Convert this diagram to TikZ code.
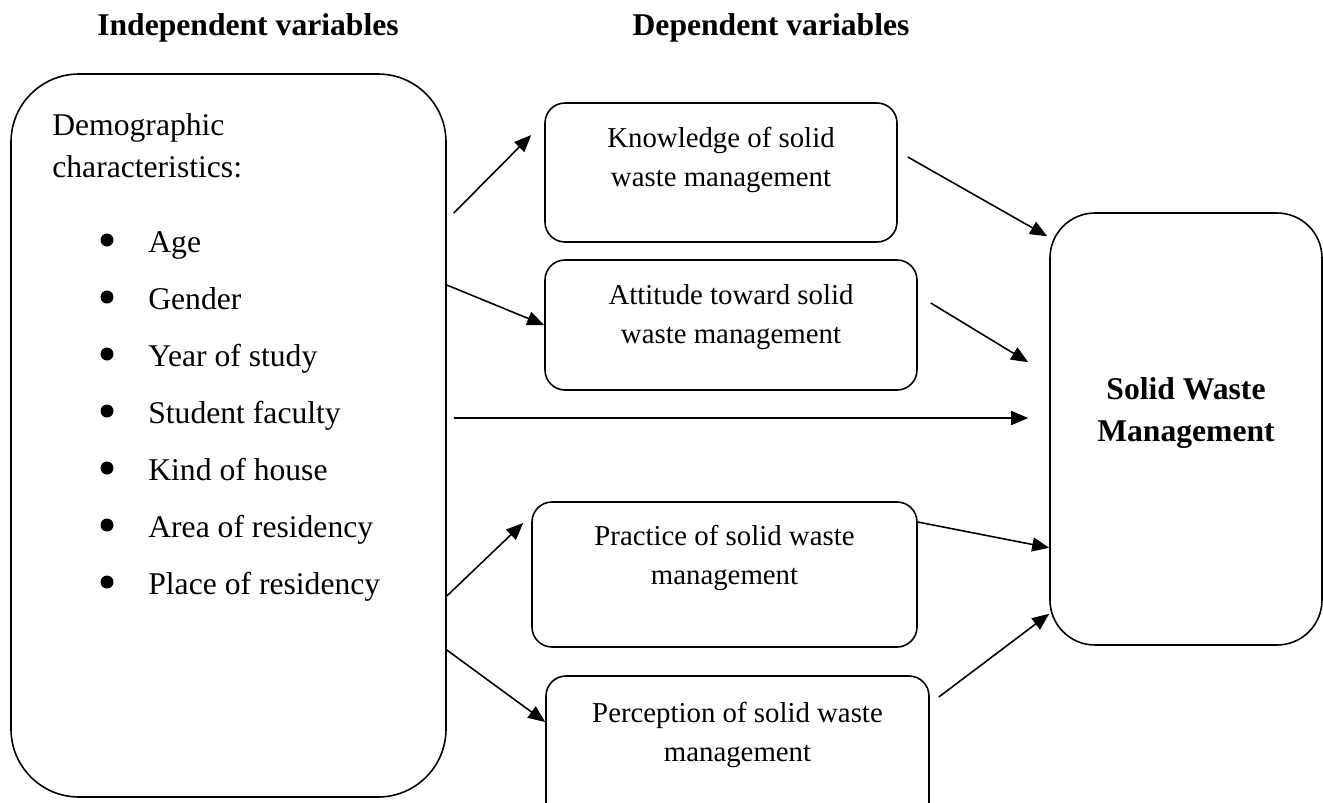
\documentclass[tikz,border=0pt]{standalone}
\usepackage{fontspec}
\setmainfont{Liberation Serif}
\usetikzlibrary{arrows.meta}

\tikzset{
  bigbox/.style={draw, line width=0.9pt, rounded corners=1.36cm},
  depbox/.style={draw, line width=0.9pt, rounded corners=0.4cm, align=center,
    font=\fontsize{16.4}{22}\selectfont},
  heading/.style={font=\fontsize{18}{22}\selectfont\bfseries},
  listtext/.style={font=\fontsize{18}{24}\selectfont, anchor=base west, inner sep=0pt},
  link/.style={-{Triangle[length=0.34cm,width=0.28cm]}, line width=0.9pt},
}

\begin{document}
\begin{tikzpicture}
    \useasboundingbox (0,0) rectangle (26.46,-16.04);
    % column headings
    \node[heading, anchor=base] (indep) at (4.96,-0.70) {Independent variables};
    \node[heading, anchor=base] (dep) at (15.42,-0.70) {Dependent variables};
    % independent variables
    \node[bigbox, minimum width=8.7cm, minimum height=14.46cm] (demo) at (4.57,-8.71) {};
    \node[listtext] (demo1) at (1.04,-2.70) {Demographic};
    \node[listtext] (demo2) at (1.04,-3.54) {characteristics:};
    \foreach \lbl [count=\k] in {Age,Gender,Year of study,Student faculty,
        Kind of house,Area of residency,Place of residency} {
      \fill (2.14,{-5.04-1.14*(\k-1)+0.24}) circle (0.13);
      \node[listtext] (item\k) at (2.96,{-5.04-1.14*(\k-1)}) {\lbl};
    }
    % dependent variables
    \node[depbox, minimum width=7.04cm, minimum height=2.78cm] (know) at (14.42,-3.45)
      {Knowledge of solid\\waste management\\[-4pt] ~};
    \node[depbox, minimum width=7.44cm, minimum height=2.60cm] (att) at (14.62,-6.50)
      {Attitude toward solid\\waste management\\[-9.5pt] ~};
    \node[depbox, minimum width=7.70cm, minimum height=2.90cm] (prac) at (14.49,-11.49)
      {Practice of solid waste\\management\\ ~};
    \node[depbox, minimum width=7.66cm, minimum height=3.0cm] (perc) at (14.75,-15.02)
      {Perception of solid waste\\management\\ ~};
    % outcome
    \node[draw, line width=0.9pt, rounded corners=0.9cm, minimum width=5.44cm,
          minimum height=8.64cm, align=center,
          font=\fontsize{18}{24}\selectfont\bfseries] (swm) at (23.72,-8.58)
          {Solid Waste\\Management\\[-2pt] ~};
    % arrows
    \draw[link] ([xshift=0.14cm, yshift=4.45cm]demo.east) -- ([xshift=-0.26cm, yshift=0.75cm]know.west);
    \draw[link] ([yshift=3.01cm]demo.east) -- (att.west);
    \draw[link] ([xshift=0.14cm, yshift=0.35cm]demo.east) -- ([xshift=-0.42cm, yshift=0.22cm]swm.west);
    \draw[link] ([yshift=-3.21cm]demo.east) -- ([xshift=-0.16cm, yshift=1.03cm]prac.west);
    \draw[link] ([yshift=-4.29cm]demo.east) -- ([yshift=0.58cm]perc.west);
    \draw[link] ([xshift=0.2cm, yshift=0.31cm]know.east) -- ([xshift=-0.04cm, yshift=-0.48cm]swm.north west);
    \draw[link] ([xshift=0.26cm, yshift=0.44cm]att.east) -- ([xshift=-0.42cm, yshift=-3.0cm]swm.north west);
    \draw[link] ([yshift=1.05cm]prac.east) -- ([yshift=1.96cm]swm.south west);
    \draw[link] ([xshift=0.18cm, yshift=1.08cm]perc.east) -- ([yshift=0.64cm]swm.south west);
\end{tikzpicture}
\end{document}
